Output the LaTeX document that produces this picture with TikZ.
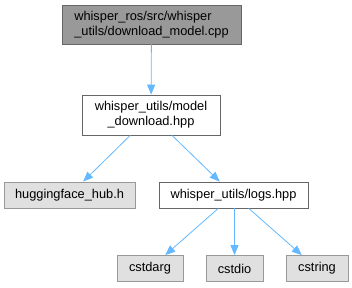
\documentclass[tikz,border=0pt]{standalone}
\usepackage{fontspec}
\setmainfont{Liberation Sans}
\usetikzlibrary{arrows.meta,positioning}

\definecolor{edgeblue}{HTML}{63B8FF}
\definecolor{rootfill}{HTML}{999999}
\definecolor{rootline}{HTML}{666666}
\definecolor{sysfill}{HTML}{E0E0E0}
\definecolor{sysline}{HTML}{999999}

\begin{document}
\begin{tikzpicture}[x=1pt,y=1pt,
    every node/.style={font=\fontsize{12.8}{15}\selectfont, inner sep=0pt},
    rootfile/.style={draw=rootline, fill=rootfill, minimum height=39pt, line width=0.8pt},
    localfile/.style={draw=rootline, fill=white, minimum height=26pt, line width=0.8pt},
    sysfile/.style={draw=sysline, fill=sysfill, minimum height=26pt, line width=0.8pt},
    incl/.style={draw=edgeblue, line width=0.8pt, -{Triangle[length=10pt,width=8pt]}}]
        \useasboundingbox (0,0) rectangle (352,287);
        % Source file
        \node[rootfile, minimum width=179pt, align=left] (src) at (151.5,262.5)
            {whisper\_ros/src/whisper\\\_utils/download\_model.cpp};
        % Headers included by it
        \node[localfile, minimum width=138pt, minimum height=40pt, align=center] (download) at (151,172)
            {whisper\_utils/model\\\_download.hpp};
        \node[sysfile, minimum width=131pt] (hub) at (69.5,92) {huggingface\_hub.h};
        \node[localfile, minimum width=149pt] (logs) at (233.5,92) {whisper\_utils/logs.hpp};
        % Standard headers
        \node[sysfile, minimum width=66pt] (cstdarg) at (150,18.5) {cstdarg};
        \node[sysfile, minimum width=57pt] (cstdio) at (234.5,18.5) {cstdio};
        \node[sysfile, minimum width=62pt] (cstring) at (317,18.5) {cstring};
        % Include edges
        \draw[incl] (src) -- (download);
        \draw[incl] (download) -- (hub);
        \draw[incl] (download) -- (logs);
        \draw[incl] (logs) -- (cstdarg);
        \draw[incl] (logs.south -| cstdio) -- (cstdio);
        \draw[incl] (logs) -- (cstring);
      \end{tikzpicture}
\end{document}
